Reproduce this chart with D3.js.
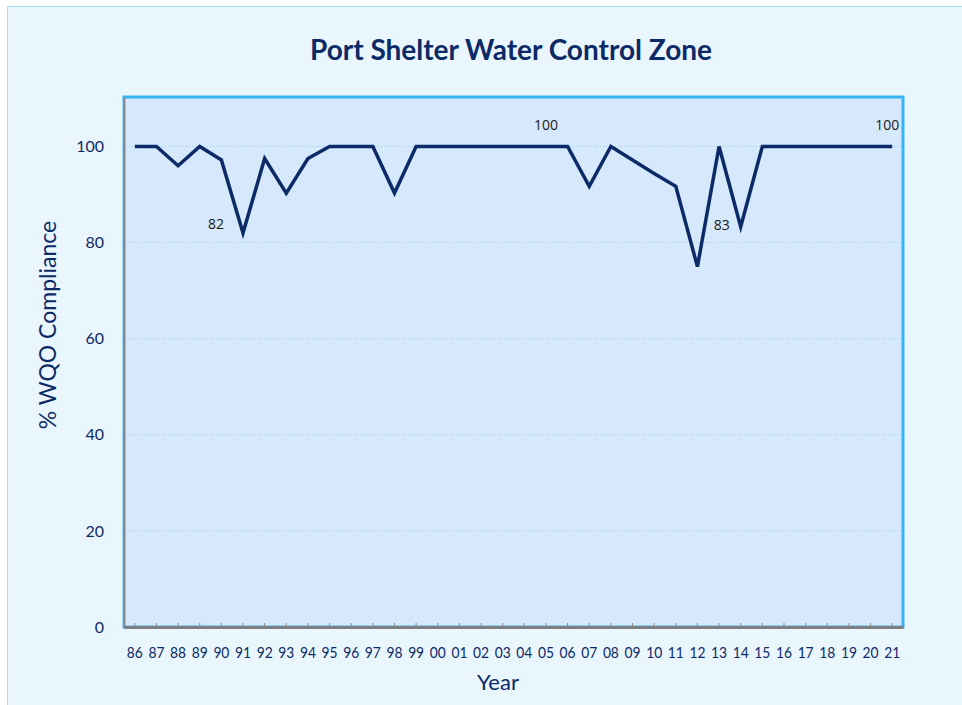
<!DOCTYPE html>
<html>
<head>
<meta charset="utf-8">
<script src="https://cdn.jsdelivr.net/npm/d3@7"></script>
<style>
  body { margin: 0; background: #ffffff; }
  svg { display: block; }
</style>
</head>
<body>
<div id="chart"></div>
<script>
// chart values
const years = ["86","87","88","89","90","91","92","93","94","95","96","97","98","99",
  "00","01","02","03","04","05","06","07","08","09","10","11","12","13","14","15",
  "16","17","18","19","20","21"];
const compliance = [100,100,96,100,97.2,82,97.5,90.3,97.5,100,100,100,90.3,100,
  100,100,100,100,100,100,100,91.7,100,97.2,94.4,91.7,75,100,83.3,100,
  100,100,100,100,100,100];
const yTicks = [0, 20, 40, 60, 80, 100];
// points that carry a value label
const labelYears = ["91", "05", "14", "21"];
const labelTexts = ["82", "100", "83", "100"];
// label offset from its point, in px
const labelOffsets = [[-27, -8], [0, -20], [-19, 0], [-5, -20]];

const W = 962, H = 705;
const margin = {top: 97, right: 59, bottom: 78, left: 124};
const innerW = W - margin.left - margin.right;
const innerH = H - margin.top - margin.bottom;
const navy = "#0c2a66";
const font = "Lato, 'Open Sans', sans-serif";

const svg = d3.select("#chart").append("svg")
    .attr("width", W)
    .attr("height", H);

// outer chart area
svg.append("rect")
    .attr("x", 7.5).attr("y", 6.5)
    .attr("width", W).attr("height", H)
    .attr("fill", "#eaf6fe")
    .attr("stroke", "#a8dcf6")
    .attr("stroke-width", 1);

const x = d3.scaleBand()
    .domain(years)
    .range([0, innerW]);

const y = d3.scaleLinear()
    .domain([0, 110.3])
    .range([innerH, 0]);

const g = svg.append("g")
    .attr("transform", `translate(${margin.left},${margin.top})`);

// plot area
g.append("rect")
    .attr("width", innerW).attr("height", innerH)
    .attr("fill", "#d5e8fc")
    .attr("stroke", "#36b4f3")
    .attr("stroke-width", 3);

// gridlines
g.append("g")
    .selectAll("line")
    .data(yTicks.filter(d => d > 0))
    .join("line")
    .attr("x1", 2).attr("x2", innerW - 2)
    .attr("y1", d => y(d)).attr("y2", d => y(d))
    .attr("stroke", "#8fd2f7")
    .attr("stroke-width", 1)
    .attr("stroke-dasharray", "1,2");

// y axis labels
const yAxis = g.append("g")
    .call(d3.axisLeft(y).tickValues(yTicks).tickSize(0).tickPadding(20));
yAxis.select(".domain").attr("stroke", "#7f7f7f").attr("stroke-width", 1);
yAxis.selectAll("text")
    .attr("fill", navy)
    .style("font-family", font)
    .style("font-size", "16px");

// x axis
const xAxis = g.append("g")
    .attr("transform", `translate(0,${innerH})`)
    .call(d3.axisBottom(x).tickSize(-4).tickPadding(20).tickSizeOuter(0));
xAxis.select(".domain").attr("stroke", "#7f7f7f").attr("stroke-width", 3);
xAxis.selectAll(".tick line").attr("stroke", "#8c8c8c").attr("stroke-width", 1);
xAxis.selectAll("text")
    .attr("fill", navy)
    .attr("textLength", 16)
    .attr("lengthAdjust", "spacingAndGlyphs")
    .style("font-family", font)
    .style("font-size", "16px");

// the line
const line = d3.line()
    .x((d, i) => x(years[i]) + x.bandwidth() / 2)
    .y(d => y(d));

g.append("path")
    .datum(compliance)
    .attr("d", line)
    .attr("fill", "none")
    .attr("stroke", navy)
    .attr("stroke-width", 3.5)
    .attr("stroke-linejoin", "miter");

// value labels
g.append("g")
    .selectAll("text")
    .data(labelYears)
    .join("text")
    .attr("x", (d, i) => x(d) + x.bandwidth() / 2 + labelOffsets[i][0])
    .attr("y", (d, i) => y(compliance[years.indexOf(d)]) + labelOffsets[i][1])
    .attr("text-anchor", "middle")
    .attr("dominant-baseline", "middle")
    .attr("fill", "#1a1a1a")
    .style("font-family", "'Open Sans', sans-serif")
    .style("font-size", "14px")
    .text((d, i) => labelTexts[i]);

// title
svg.append("text")
    .attr("x", 511).attr("y", 60)
    .attr("text-anchor", "middle")
    .attr("fill", navy)
    .style("font-family", font)
    .style("font-weight", "bold")
    .style("font-size", "28px")
    .text("Port Shelter Water Control Zone");

// axis titles
svg.append("text")
    .attr("transform", "translate(56,325) rotate(-90)")
    .attr("text-anchor", "middle")
    .attr("fill", navy)
    .style("font-family", font)
    .style("font-size", "23px")
    .text("% WQO Compliance");

svg.append("text")
    .attr("x", 498).attr("y", 690)
    .attr("text-anchor", "middle")
    .attr("fill", navy)
    .style("font-family", font)
    .style("font-size", "22px")
    .text("Year");
</script>
</body>
</html>
